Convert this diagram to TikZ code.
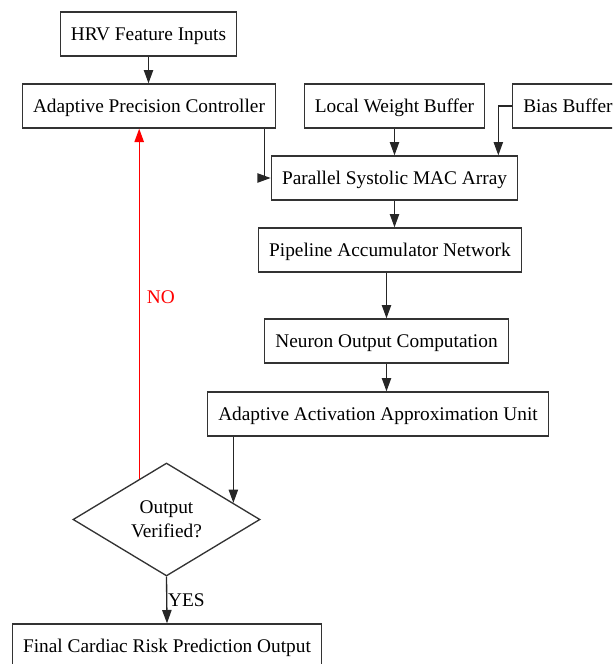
\documentclass[tikz,border=0pt]{standalone}
\usepackage{fontspec}
\setmainfont{Liberation Serif}
\usetikzlibrary{arrows.meta,shapes.geometric,calc}

\begin{document}
\begin{tikzpicture}[x=0.75pt,y=-0.75pt,
    font=\fontsize{14.5}{18}\selectfont,
    block/.style={draw=black!80, line width=1pt, fill=white, minimum height=33pt, inner xsep=8pt, inner ysep=0pt, text height=12pt, text depth=2.4pt},
    check/.style={draw=black!80, line width=1pt, diamond, aspect=1.65, inner sep=0pt, minimum width=140.25pt, minimum height=84.75pt, align=center},
    flow/.style={draw=black!85, line width=1pt, -{Triangle[length=10pt,width=7pt]}},
    nopath/.style={flow, draw=red}]
    \useasboundingbox (0,0) rectangle (612,664);
    \clip (0,0) rectangle (612,664);

    % blocks
    \node[block] (hrv) at (148.5,34) {HRV Feature Inputs};
    \node[block] (apc) at (149,106) {Adaptive Precision Controller};
    \node[block] (lwb) at (394.5,106) {Local Weight Buffer};
    \node[block, anchor=west] (bias) at (512,106) {Bias Buffer};
    \node[block] (mac) at (394.5,178) {Parallel Systolic MAC Array};
    \node[block] (pan) at (390,250) {Pipeline Accumulator Network};
    \node[block] (non) at (386.5,341) {Neuron Output Computation};
    \node[block] (aaau) at (378,414) {Adaptive Activation Approximation Unit};
    \node[check] (chk) at (166.5,519.5) {Output\\Verified?};
    \node[block] (fin) at (167,646) {Final Cardiac Risk Prediction Output};

    % connectors
    \draw[flow] (hrv.south) -- (hrv.south |- apc.north);
    \draw[flow] ([xshift=-9pt]apc.south east) |- (mac.west);
    \draw[flow] (lwb) -- (mac);
    \draw[flow] (bias.west) -| ([xshift=-15pt]mac.north east);
    \draw[flow] (mac.south) -- (mac.south |- pan.north);
    \draw[flow] (non.north |- pan.south) -- (non.north);
    \draw[flow] (non.south) -- (non.south |- aaau.north);

    \coordinate (chkin) at ($(chk.north)!0.71!(chk.east)$);
    \coordinate (chkno) at ($(chk.north)!0.29!(chk.west)$);
    \draw[flow] (chkin |- aaau.south) -- (chkin);
    \draw[nopath] (chkno) -- (chkno |- apc.south) node[pos=0.52, right=2pt, red] {NO};
    \draw[flow] (chk.south) -- (fin.north) node[pos=0.5, right, inner sep=0.5pt] {YES};
\end{tikzpicture}
\end{document}
